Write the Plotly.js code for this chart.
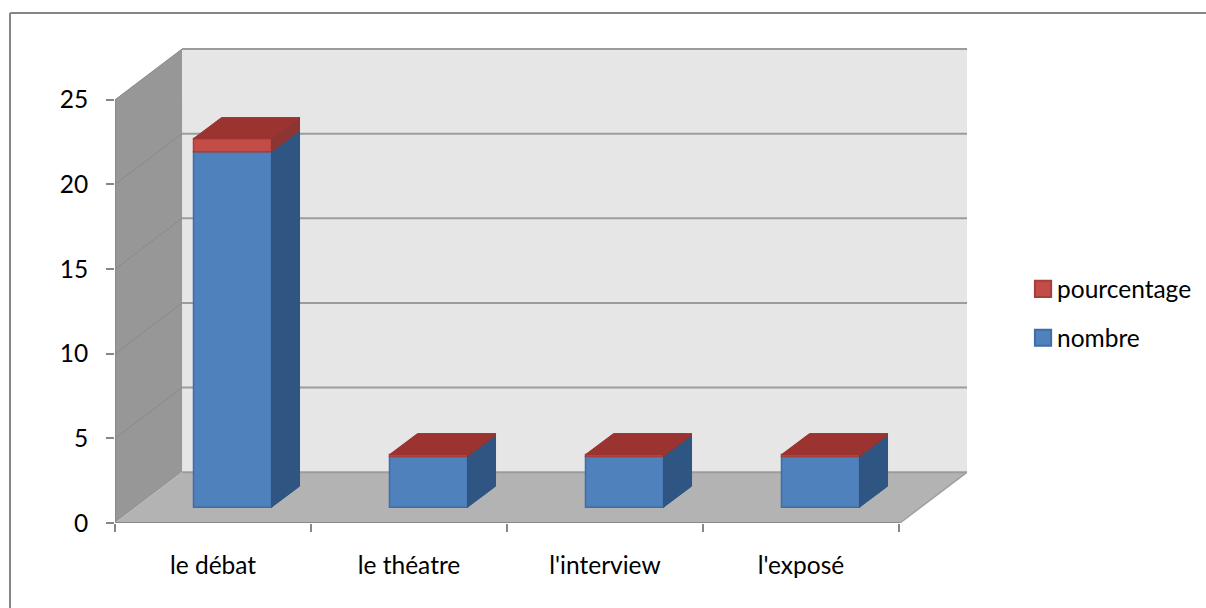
<!DOCTYPE html>
<html>
<head>
<meta charset="utf-8">
<script src="https://cdn.plot.ly/plotly-3.0.1.min.js"></script>
<style>html,body{margin:0;padding:0;background:#fff}#chart{width:1206px;height:608px}</style>
</head>
<body>
<div id="chart"></div>
<script>
// Data
var categories = ["le débat", "le théatre", "l'interview", "l'exposé"];
var nombre = [21, 3, 3, 3];
var pourcentage = [0.78, 0.11, 0.11, 0.11];
var yTicks = [0, 5, 10, 15, 20, 25];

// Projection of the 3-D look, expressed in axis units
var xMin = -0.5, xMax = 3.847, yMax = 28.12;
var wallDX = 0.342, wallDY = 3.0;   // depth of the chart box
var barW = 0.398, barOff = -0.0995; // bar width, offset from category centre
var barDX = 0.143, barDY = 1.24;    // depth of a bar
var lift = 0.93;                    // bars stand in the middle of the floor
var FONT = "Lato, sans-serif";
var FS = 24.5;

// stacked bases
var baseN = nombre.map(function () { return lift; });
var baseP = nombre.map(function (v) { return lift + v; });

function sideAndTop(base, vals) {
  var sx = [], sy = [], tx = [], ty = [];
  vals.forEach(function (v, i) {
    var l = i + barOff, r = l + barW, b = base[i], t = b + v;
    sx.push(r, r + barDX, r + barDX, r, r, null);
    sy.push(b, b + barDY, t + barDY, t, b, null);
    tx.push(l, l + barDX, r + barDX, r, l, null);
    ty.push(t, t + barDY, t + barDY, t, t, null);
  });
  return {sx: sx, sy: sy, tx: tx, ty: ty};
}
function face(x, y, color) {
  return {type: "scatter", mode: "lines", x: x, y: y, xaxis: "x2", yaxis: "y",
    fill: "toself", fillcolor: color, line: {color: color, width: 1},
    hoverinfo: "skip", showlegend: false};
}
var fN = sideAndTop(baseN, nombre), fP = sideAndTop(baseP, pourcentage);

var traces = [
  {type: "bar", name: "nombre", x: categories, y: nombre, base: baseN, width: barW, offset: barOff,
   legendgroup: "b", legendrank: 2, marker: {color: "#4F81BD", line: {color: "#3F6EA6", width: 1.5}}},
  {type: "bar", name: "pourcentage", x: categories, y: pourcentage, base: baseP, width: barW, offset: barOff,
   legendgroup: "a", legendrank: 1, marker: {color: "#C44C47", line: {color: "#A63E3B", width: 1.5}}},
  face(fN.sx, fN.sy, "#2F5583"),
  face(fP.sx, fP.sy, "#8C3533"),
  face(fP.tx, fP.ty, "#9B3330")
];

// Box: walls, floor and gridlines
var shapes = [];
function poly(pts, color) {
  var d = pts.map(function (p, i) { return (i ? "L" : "M") + p[0] + "," + p[1]; }).join(" ") + " Z";
  shapes.push({type: "path", xref: "x", yref: "y", layer: "below", path: d, fillcolor: color, line: {width: 0}});
}
var topTick = yTicks[yTicks.length - 1];
var xL = xMin, xB = xMin + wallDX;
poly([[xB, wallDY], [xMax, wallDY], [xMax, topTick + wallDY], [xB, topTick + wallDY]], "#E6E6E6");
poly([[xL, 0], [xB, wallDY], [xB, topTick + wallDY], [xL, topTick]], "#979797");
poly([[xL, 0], [xMax - wallDX, 0], [xMax, wallDY], [xB, wallDY]], "#B3B3B3");
yTicks.forEach(function (t) {
  var y = t + wallDY;
  shapes.push({type: "line", xref: "x", yref: "y", layer: "below", x0: xB, x1: xMax, y0: y, y1: y,
    line: {color: "#9C9C9C", width: 2}});
  if (t > 0) shapes.push({type: "line", xref: "x", yref: "y", layer: "below", x0: xL, x1: xB, y0: t, y1: y,
    line: {color: "#8A8A8A", width: 1}});
});
// Axis lines, only as far as the front plane
shapes.push({type: "line", xref: "x", yref: "y", layer: "above", x0: xL, x1: xMax - wallDX, y0: 0, y1: 0, line: {color: "#868686", width: 2}});
shapes.push({type: "line", xref: "x", yref: "y", layer: "above", x0: xL, x1: xL, y0: 0, y1: topTick, line: {color: "#868686", width: 1.5}});
shapes.push({type: "line", xref: "x", yref: "y", layer: "above", x0: xMax - wallDX, x1: xMax, y0: 0, y1: wallDY, line: {color: "#A0A0A0", width: 1.5}});
// Chart-area frame: only its top and left edges fall inside the picture
var W = 852, H = 476;
var fx = (10 - 115) / W, fy = (523 - 13) / H, fb = (523 - 608) / H, fr = (1206 - 115) / W;
shapes.push({type: "line", xref: "paper", yref: "paper", x0: fx, x1: fr, y0: fy, y1: fy, line: {color: "#868686", width: 2}});
shapes.push({type: "line", xref: "paper", yref: "paper", x0: fx, x1: fx, y0: fy, y1: fb, line: {color: "#868686", width: 2}});

var layout = {
  width: 1206, height: 608,
  margin: {l: 115, r: 239, t: 47, b: 85, pad: 0},
  paper_bgcolor: "#fff", plot_bgcolor: "rgba(0,0,0,0)",
  font: {family: FONT, size: FS, color: "#000"},
  barmode: "overlay",
  xaxis: {type: "category", categoryorder: "array", categoryarray: categories, range: [xMin, xMax],
    tickson: "boundaries", ticks: "outside", ticklen: 8, tickwidth: 2, tickcolor: "#868686",
    ticklabelstandoff: 25, showgrid: false, zeroline: false, showline: false, fixedrange: true,
    tickfont: {family: FONT, size: FS, color: "#000"}},
  xaxis2: {type: "linear", overlaying: "x", range: [xMin, xMax], visible: false, fixedrange: true},
  yaxis: {range: [0, yMax], tickmode: "array", tickvals: yTicks, ticktext: yTicks.map(String),
    ticks: "outside", ticklen: 8, tickwidth: 2, tickcolor: "#868686", ticklabelstandoff: 13,
    showgrid: false, zeroline: false, showline: false, fixedrange: true,
    tickfont: {family: FONT, size: FS, color: "#000"}},
  legend: {xref: "container", yref: "container", x: 0.8433, xanchor: "left", y: 0.4844, yanchor: "middle",
    traceorder: "grouped", tracegroupgap: 14, bgcolor: "rgba(0,0,0,0)",
    font: {family: FONT, size: FS, color: "#000"}, itemclick: false, itemdoubleclick: false},
  shapes: shapes,
  showlegend: true
};

Plotly.newPlot("chart", traces, layout, {displayModeBar: false}).then(function () {
  // Excel's keys are larger and sit right next to their text
  document.querySelectorAll(".legend .legendpoints path").forEach(function (p) {
    p.setAttribute("transform", "translate(26,0) scale(1.35)");
  });
});
</script>
</body>
</html>
